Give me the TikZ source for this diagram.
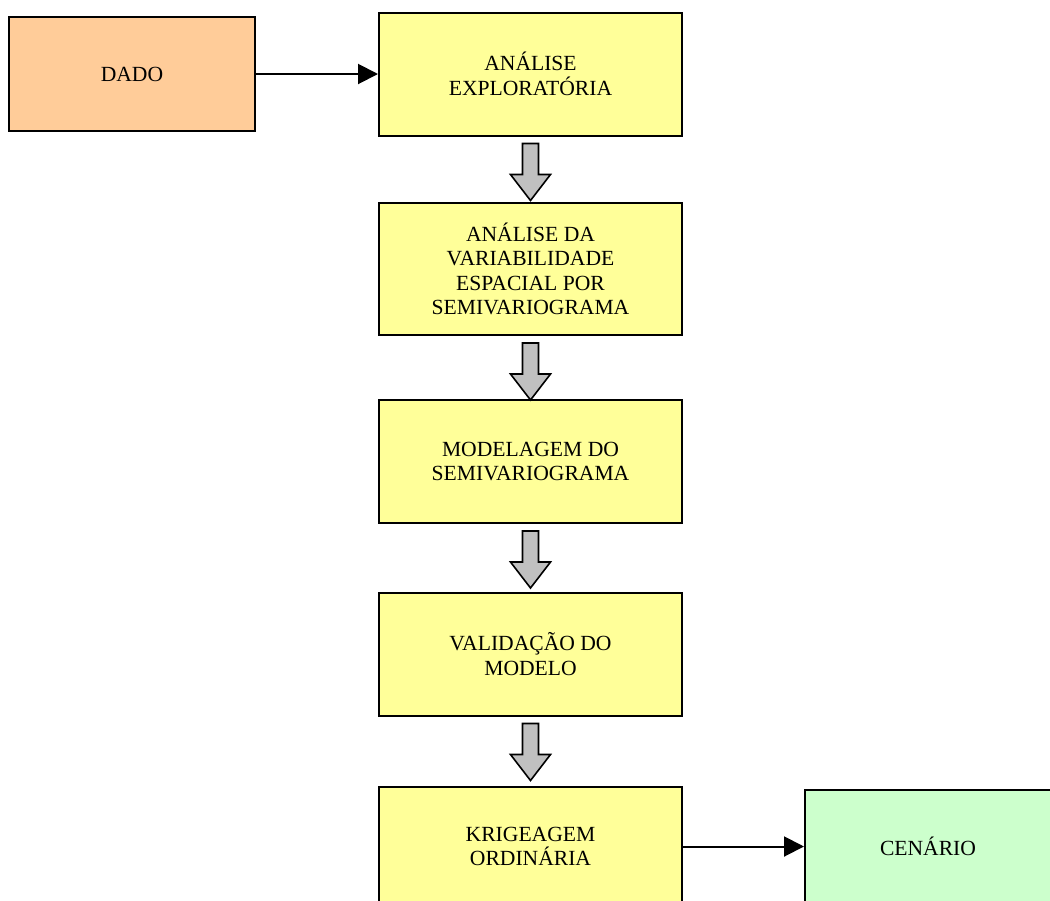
\documentclass[tikz,border=0pt]{standalone}
\usepackage{fontspec}
\setmainfont{Liberation Serif}
\usetikzlibrary{arrows.meta, calc, positioning}

\definecolor{stageyellow}{HTML}{FFFF99}
\definecolor{dataorange}{HTML}{FFCC99}
\definecolor{resultgreen}{HTML}{CCFFCC}
\definecolor{arrowgray}{HTML}{C0C0C0}

\begin{document}
\begin{tikzpicture}[
        x = 0.5pt, y = -0.5pt,
        node distance = 96.25pt, on grid,
        >= {Triangle[length = 10pt, width = 10pt]},
        every node/.style = {font = \fontsize{10.8}{12.2}\selectfont},
        box/.style = {draw = black, line width = 1pt, align = center, minimum width = 151.5pt, minimum height = 61.5pt},
        stage/.style = {box, fill = stageyellow},
        ends/.style = {box, minimum width = 123pt, minimum height = 57pt},
        flow/.style = {draw = black, line width = 0.8pt, fill = arrowgray, line join = miter}
    ]
        \clip (0, 0) rectangle (1050, 900);

        \node[stage] (explor) at (530.5, 74) {ANÁLISE\\EXPLORATÓRIA};
        \node[stage, minimum height = 66pt] (variab) [below = 97.5pt of explor] {ANÁLISE DA\\VARIABILIDADE\\ESPACIAL POR\\SEMIVARIOGRAMA};
        \node[stage] (modelo) [below = of variab] {MODELAGEM DO\\SEMIVARIOGRAMA};
        \node[stage] (valid) [below = of modelo] {VALIDAÇÃO DO\\MODELO};
        \node[stage, minimum height = 60pt] (kriga) [below = of valid] {KRIGEAGEM\\ORDINÁRIA};
        \node[ends, fill = dataorange] (dado) [left = 199.25pt of explor] {DADO};
        \node[ends, fill = resultgreen] (cenario) [right = 198.75pt of kriga] {CENÁRIO};

        % setas de bloco entre as etapas
        \foreach \n in {explor, variab, modelo, valid}
            \draw[flow] ($(\n.south) + (-8, 7)$) -- ++(16, 0) -- ++(0, 31) -- ++(12, 0)
                -- ++(-20, 26) -- ++(-20, -26) -- ++(12, 0) -- cycle;

        \draw[->, line width = 1pt] (dado) -- (explor);
        \draw[->, line width = 1pt] (kriga) -- (cenario);
    \end{tikzpicture}
\end{document}
